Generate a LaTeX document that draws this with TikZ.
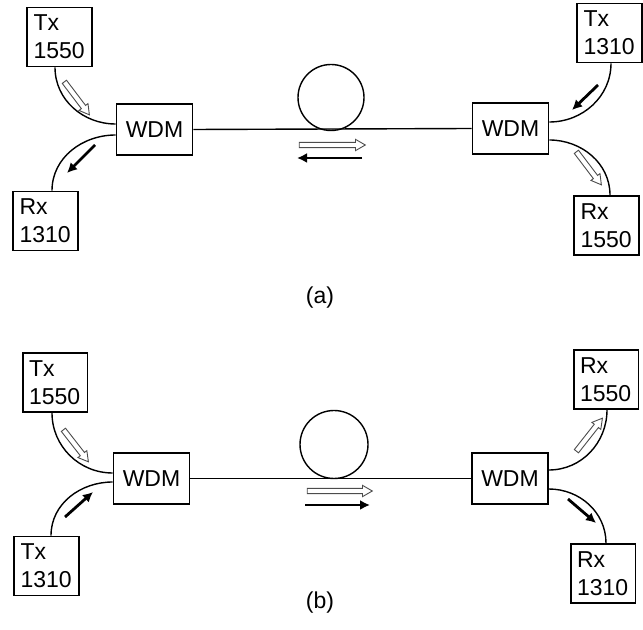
\documentclass[tikz,border=0pt]{standalone}
\usepackage{fontspec}
\setmainfont{Liberation Sans}
\usetikzlibrary{calc,arrows.meta,shapes.arrows}
\newcommand\hollowArrow[3]{\path let \p1=($(#3)-(#2)$), \n1={atan2(\y1,\x1)}, \n2={veclen(\x1,\y1)} in node[harr, minimum height=\n2, rotate=\n1] (#1) at ($(#2)!0.5!(#3)$) {};}
\tikzset{
  unitbox/.style={draw, line width=0.9pt, text width=26pt, inner xsep=3.2pt, align=left,
    minimum height=29.5pt, font=\fontsize{11.5}{14}\selectfont},
  wdm/.style={draw, line width=0.9pt, minimum width=38pt, minimum height=25.5pt,
    font=\fontsize{11.5}{14}\selectfont},
  fib/.style={line width=0.7pt},
  harr/.style={single arrow, draw=black!70, fill=white, line width=0.45pt, inner sep=1.1pt,
    single arrow head extend=1.5pt, single arrow tip angle=60, shape border uses incircle=false},
  barr/.style={line width=1.4pt, -{Latex[length=5pt,width=5pt]}},
  captext/.style={font=\fontsize{11.5}{14}\selectfont}
}
\begin{document}
\begin{tikzpicture}[x=0.5pt,y=0.5pt]
\useasboundingbox (0,0) rectangle (643,-630);
% ---------- (a) ----------
\node[unitbox] (txa1) at (59.5,-37) {Tx\\1550};
\node[unitbox] (rxa1) at (45.5,-221) {Rx\\1310};
\node[wdm] (wla) at (154.5,-129.5) {WDM};
\node[wdm] (wra) at (510.5,-128.5) {WDM};
\node[unitbox] (txa2) at (609.5,-33) {Tx\\1310};
\node[unitbox] (rxa2) at (606.5,-225.5) {Rx\\1550};
\draw[fib] ($(txa1.south)+(-4.5,0)$) to[out=-90,in=180] ($(wla.west)+(0,5.5)$);
\draw[fib] ($(wla.west)+(0,-5.5)$) to[out=180,in=90] ($(rxa1.north)+(6.5,0)$);
\draw[fib] ($(txa2.south)+(1.5,0)$) to[out=-90,in=0] ($(wra.east)+(0,6.5)$);
\draw[fib] ($(wra.east)+(0,-11.5)$) to[out=0,in=90] ($(rxa2.north)+(3.5,0)$);
\draw[fib] (wla.east) -- (wra.west);
\node[draw, circle, line width=0.7pt, minimum size=33pt, inner sep=0pt] (coila) at (331,-97.5) {};
\coordinate (ha1s) at (63,-80); \coordinate (ha1e) at (88,-113);
\coordinate (ha2s) at (297,-145); \coordinate (ha2e) at (363,-145);
\coordinate (ha3s) at (575,-150); \coordinate (ha3e) at (600,-183);
\hollowArrow{ha1}{ha1s}{ha1e}
\hollowArrow{ha2}{ha2s}{ha2e}
\hollowArrow{ha3}{ha3s}{ha3e}
\coordinate (ba1s) at (95,-145); \coordinate (ba1e) at (67,-173);
\coordinate (ba2s) at (362,-158); \coordinate (ba2e) at (297,-158);
\coordinate (ba3s) at (598,-85); \coordinate (ba3e) at (572,-110);
\draw[barr] (ba1s) -- (ba1e);
\draw[barr] (ba2s) -- (ba2e);
\draw[barr] (ba3s) -- (ba3e);
\node[captext] (capa) at (320,-298) {(a)};
% ---------- (b) ----------
\node[unitbox] (txb1) at (55,-382.5) {Tx\\1550};
\node[unitbox] (txb2) at (46.5,-566) {Tx\\1310};
\node[wdm] (wlb) at (151.5,-478.5) {WDM};
\node[wdm] (wrb) at (510,-478.5) {WDM};
\node[unitbox] (rxb1) at (606,-379.5) {Rx\\1550};
\node[unitbox] (rxb2) at (603,-573.5) {Rx\\1310};
\draw[fib] ($(txb1.south)+(-3,0)$) to[out=-90,in=180] ($(wlb.west)+(0,5.5)$);
\draw[fib] ($(wlb.west)+(0,-3.5)$) to[out=180,in=90] ($(txb2.north)+(4.5,0)$);
\draw[fib] ($(wrb.east)+(0,8.5)$) to[out=0,in=-90] ($(rxb1.south)+(1,0)$);
\draw[fib] ($(wrb.east)+(0,-10.5)$) to[out=0,in=90] ($(rxb2.north)+(3,0)$);
\draw[fib] (wlb.east) -- (wrb.west);
\node[draw, circle, line width=0.7pt, minimum size=34pt, inner sep=0pt] (coilb) at (334,-444.5) {};
\coordinate (hb1s) at (62,-428); \coordinate (hb1e) at (87,-460);
\coordinate (hb2s) at (305,-491); \coordinate (hb2e) at (370,-491);
\coordinate (hb3s) at (575,-453); \coordinate (hb3e) at (601,-420);
\hollowArrow{hb1}{hb1s}{hb1e}
\hollowArrow{hb2}{hb2s}{hb2e}
\hollowArrow{hb3}{hb3s}{hb3e}
\coordinate (bb1s) at (65,-517); \coordinate (bb1e) at (93,-492);
\coordinate (bb2s) at (305,-505); \coordinate (bb2e) at (370,-505);
\coordinate (bb3s) at (568,-499); \coordinate (bb3e) at (596,-523);
\draw[barr] (bb1s) -- (bb1e);
\draw[barr] (bb2s) -- (bb2e);
\draw[barr] (bb3s) -- (bb3e);
\node[captext] (capb) at (320,-603) {(b)};
\end{tikzpicture}
\end{document}
